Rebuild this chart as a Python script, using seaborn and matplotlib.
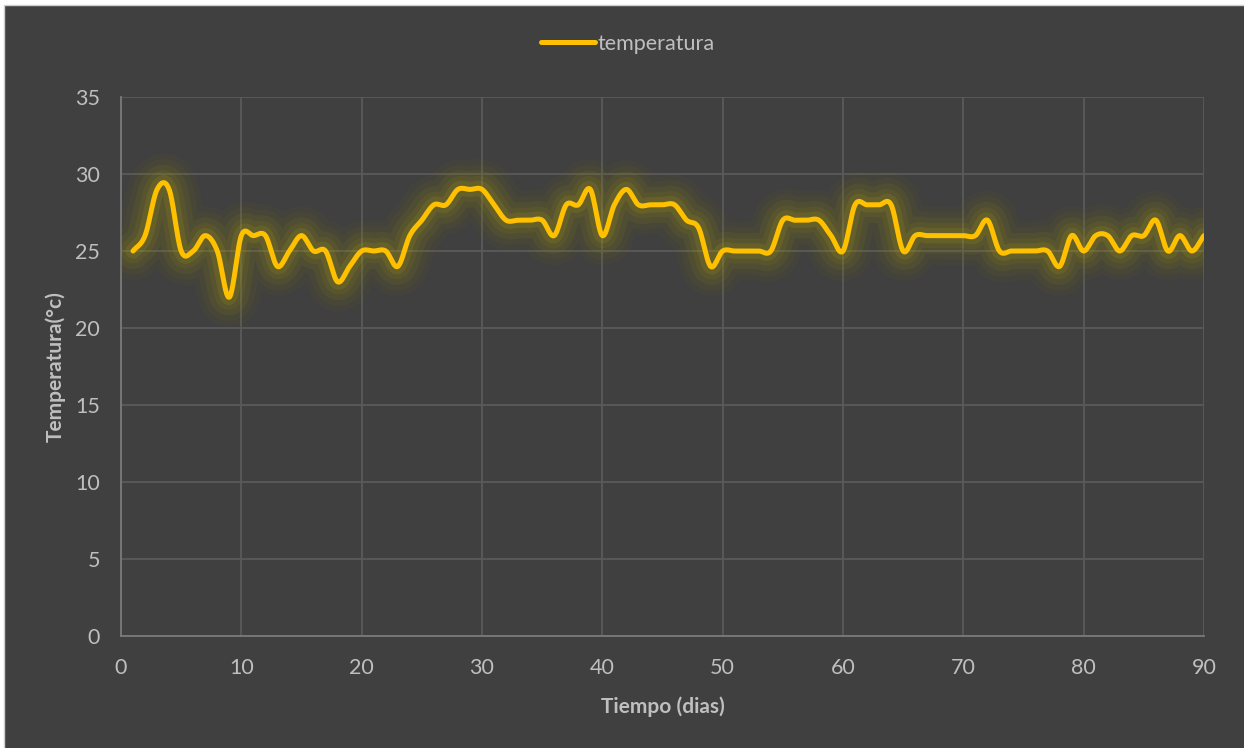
import numpy as np
import pandas as pd
import matplotlib
matplotlib.use("Agg")
import matplotlib.pyplot as plt
import matplotlib.patheffects as pe
from matplotlib.patches import Rectangle
import seaborn as sns

# Daily temperature readings (°C), day 1 .. 90
dias = list(range(1, 91))
temperatura = [
    25, 26, 29, 29, 25, 25, 26, 25, 22, 26,
    26, 26, 24, 25, 26, 25, 25, 23, 24, 25,
    25, 25, 24, 26, 27, 28, 28, 29, 29, 29,
    28, 27, 27, 27, 27, 26, 28, 28, 29, 26,
    28, 29, 28, 28, 28, 28, 27, 26.5, 24, 25,
    25, 25, 25, 25, 27, 27, 27, 27, 26, 25,
    28, 28, 28, 28, 25, 26, 26, 26, 26, 26,
    26, 27, 25, 25, 25, 25, 25, 24, 26, 25,
    26, 26, 25, 26, 26, 27, 25, 26, 25, 26,
]
x_ticks = [0, 10, 20, 30, 40, 50, 60, 70, 80, 90]
y_ticks = [0, 5, 10, 15, 20, 25, 30, 35]
serie = "temperatura"
x_label = "Tiempo (dias)"
y_label = "Temperatura(°c)"

BG = "#404040"
TXT = "#bfbfbf"
LINE = "#ffc000"


def smooth_curve(x, y, steps=24):
    """Cardinal (Catmull-Rom) spline through the points, like a smoothed line chart."""
    x = np.asarray(x, float)
    y = np.asarray(y, float)
    n = len(x)
    mx = np.empty(n)
    my = np.empty(n)
    mx[1:-1] = (x[2:] - x[:-2]) / 2
    my[1:-1] = (y[2:] - y[:-2]) / 2
    mx[0], my[0] = x[1] - x[0], y[1] - y[0]
    mx[-1], my[-1] = x[-1] - x[-2], y[-1] - y[-2]
    t = np.linspace(0, 1, steps, endpoint=False)
    h00 = 2 * t**3 - 3 * t**2 + 1
    h10 = t**3 - 2 * t**2 + t
    h01 = -2 * t**3 + 3 * t**2
    h11 = t**3 - t**2
    xs, ys = [], []
    for i in range(n - 1):
        xs.append(h00 * x[i] + h10 * mx[i] + h01 * x[i + 1] + h11 * mx[i + 1])
        ys.append(h00 * y[i] + h10 * my[i] + h01 * y[i + 1] + h11 * my[i + 1])
    xs.append([x[-1]])
    ys.append([y[-1]])
    return np.concatenate(xs), np.concatenate(ys)


sns.set_theme(style="dark")
plt.rcParams["font.family"] = ["Lato", "DejaVu Sans"]

fig = plt.figure(figsize=(12.44, 7.48), dpi=100)
fig.patch.set_facecolor("white")
# dark chart area with a thin light frame
fig.patches.append(Rectangle((4 / 1244, -0.05), 1.1, 1 - 5 / 748 + 0.05,
                             transform=fig.transFigure, facecolor=BG,
                             edgecolor="#d0d0d0", lw=1.0, zorder=-10))

ax = fig.add_axes([121 / 1244, 1 - 636 / 748, 1083 / 1244, 539 / 748])
ax.set_facecolor(BG)

xs, ys = smooth_curve(dias, temperatura)
df = pd.DataFrame({"dia": xs, serie: ys})

# soft olive glow around the line
glow = [
    pe.Stroke(linewidth=42, foreground="#8a8200", alpha=0.05),
    pe.Stroke(linewidth=34, foreground="#8a8200", alpha=0.07),
    pe.Stroke(linewidth=26, foreground="#9a9000", alpha=0.09),
    pe.Stroke(linewidth=18, foreground="#a89a10", alpha=0.11),
    pe.Stroke(linewidth=11, foreground="#b8a818", alpha=0.14),
    pe.Normal(),
]
sns.lineplot(data=df, x="dia", y=serie, ax=ax, color=LINE, lw=3.6,
             label=serie, sort=False, estimator=None,
             path_effects=glow, solid_capstyle="round", zorder=5)

ax.set_xlim(0, 90)
ax.set_ylim(0, 35)
ax.set_xticks(x_ticks)
ax.set_yticks(y_ticks)
ax.grid(True, color="#5a5a5a", lw=1.3)
ax.tick_params(axis="both", length=0, labelsize=15.5, colors=TXT)
ax.tick_params(axis="x", pad=16)
ax.tick_params(axis="y", pad=15)
for side in ("top", "right"):
    ax.spines[side].set_visible(False)
for side in ("left", "bottom"):
    ax.spines[side].set_visible(True)
    ax.spines[side].set_color("#7a7a7a")
    ax.spines[side].set_linewidth(1.3)

ax.set_xlabel(x_label, fontsize=15, fontweight="bold", color=TXT)
ax.set_ylabel(y_label, fontsize=15, fontweight="bold", color=TXT)
ax.xaxis.set_label_coords((663 - 121) / 1083, (636 - 696) / 539)
ax.yaxis.set_label_coords((66 - 121) / 1083, 0.5)

leg = ax.legend(loc="center", bbox_to_anchor=(628 / 1244, 1 - 44 / 748),
                bbox_transform=fig.transFigure, frameon=False, fontsize=15.5,
                handlelength=2.5, handletextpad=0.15)
for txt in leg.get_texts():
    txt.set_color(TXT)
for h in leg.get_lines():
    h.set_path_effects([])
    h.set_linewidth(3.6)

fig.savefig("out.png", dpi=100, facecolor=fig.get_facecolor())
